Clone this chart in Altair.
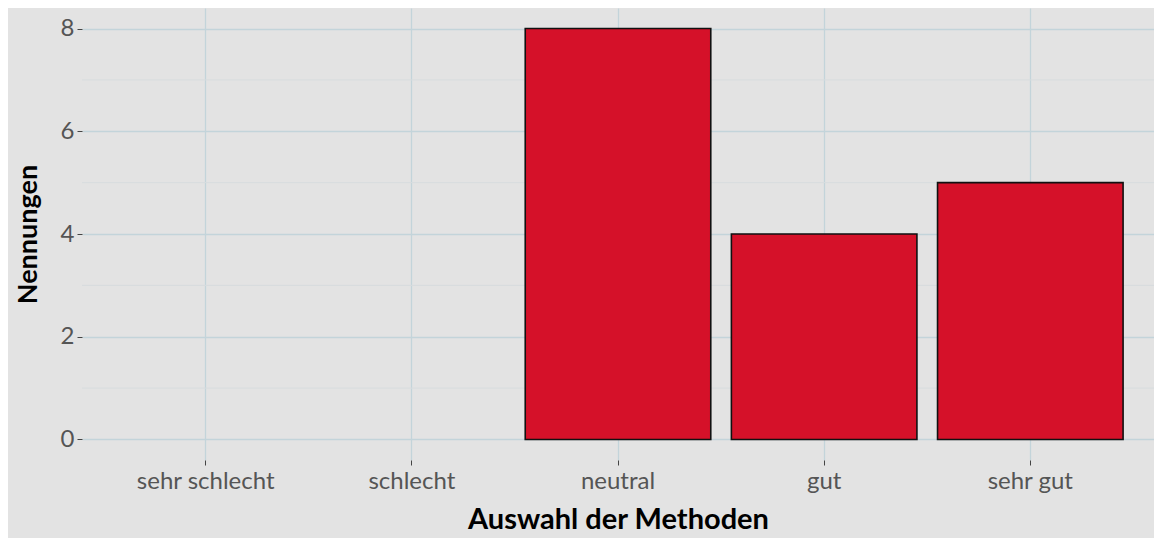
import altair as alt
import pandas as pd

categories = ["sehr schlecht", "schlecht", "neutral", "gut", "sehr gut"]
counts = [0, 0, 8, 4, 5]
major_ticks = [0, 2, 4, 6, 8]
minor_ticks = [1, 3, 5, 7]

df = pd.DataFrame({"Kategorie": categories, "Nennungen": counts})
minor_df = pd.DataFrame({"Nennungen": minor_ticks})

FONT = "Lato"
BG = "#e3e3e3"
GRID = "#c3d4da"

xscale = alt.Scale(domain=categories, paddingInner=0.1, paddingOuter=0.15)
yscale = alt.Scale(domain=[-0.4, 8.4], nice=False, zero=False)

yaxis = alt.Axis(
    title="Nennungen",
    values=major_ticks,
    grid=True,
    gridColor=GRID,
    gridWidth=1.3,
    domain=False,
    tickColor="#444444",
    tickSize=5,
    labelPadding=3,
    labelFont=FONT,
    labelFontSize=24,
    labelColor="#555555",
    titleFont=FONT,
    titleFontSize=27,
    titleFontWeight="bold",
    titleColor="#000000",
    titlePadding=18,
)

minor = alt.Chart(minor_df).mark_rule(color="#d7dcde", strokeWidth=1).encode(
    y=alt.Y("Nennungen:Q", scale=yscale, axis=yaxis)
)

bars = alt.Chart(df).transform_filter("datum.Nennungen > 0").mark_bar(
    color="#d51129", stroke="#111111", strokeWidth=1.6
).encode(
    x=alt.X(
        "Kategorie:N",
        sort=categories,
        scale=xscale,
        axis=alt.Axis(
            title="Auswahl der Methoden",
            labelAngle=0,
            bandPosition=0.5,
            grid=True,
            gridColor=GRID,
            gridWidth=1.3,
            domain=False,
            tickColor="#444444",
            tickSize=5,
            labelPadding=4,
            labelFont=FONT,
            labelFontSize=24,
            labelColor="#555555",
            titleFont=FONT,
            titleFontSize=29,
            titleFontWeight="bold",
            titleColor="#000000",
            titlePadding=12,
        ),
    ),
    y=alt.Y("Nennungen:Q", scale=yscale, axis=yaxis),
)

chart = alt.layer(minor, bars).properties(
    width=1072,
    height=452,
    background=BG,
    padding={"left": 74, "top": 0, "right": 0, "bottom": 78},
    autosize=alt.AutoSizeParams(type="none"),
).configure_view(stroke=None, fill=BG)

chart.save("out.html", embed_options={"renderer": "svg", "actions": False})
